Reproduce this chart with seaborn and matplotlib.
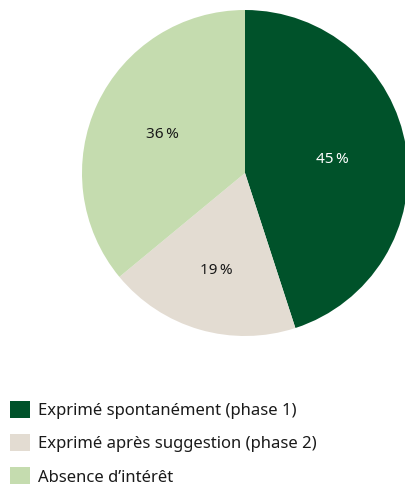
import numpy as np
import matplotlib
matplotlib.use("Agg")
import matplotlib.pyplot as plt
from matplotlib.patches import Patch
import seaborn as sns

# Share of respondents by type of interest expressed
categories = [
    "Exprimé spontanément (phase 1)",
    "Exprimé après suggestion (phase 2)",
    "Absence d\u2019intérêt",
]
shares = [45, 19, 36]
colors = ["#00522A", "#E3DCD2", "#C5DCAF"]
label_colors = ["#FFFFFF", "#1A1A1A", "#1A1A1A"]
label_radius = [0.54, 0.62, 0.56]

sns.set_theme(style="white")
plt.rcParams["font.family"] = ["Noto Sans", "DejaVu Sans"]

W, H = 406, 486
fig = plt.figure(figsize=(W / 100, H / 100), dpi=100)

# Pie area: square box in pixel units (left, top, size)
px_left, px_top, px_size = 82, 10, 326
ax = fig.add_axes([px_left / W, 1 - (px_top + px_size) / H, px_size / W, px_size / H])

wedges, _ = ax.pie(
    shares,
    colors=colors,
    startangle=90,
    counterclock=False,
    radius=1.0,
    wedgeprops=dict(linewidth=0, antialiased=True),
)
ax.set_xlim(-1, 1)
ax.set_ylim(-1, 1)
ax.set_aspect("equal")
ax.axis("off")

for w, val, col, r in zip(wedges, shares, label_colors, label_radius):
    mid = np.deg2rad((w.theta1 + w.theta2) / 2)
    ax.text(r * np.cos(mid), r * np.sin(mid), f"{val}\u202f%",
            ha="center", va="center", fontsize=11, color=col)

fs = 12
px = fs * 100 / 72
handles = [Patch(facecolor=c, edgecolor="none") for c in colors]
fig.legend(
    handles, categories,
    loc="upper left",
    bbox_to_anchor=(10 / W, 1 - 401 / H),
    frameon=False,
    fontsize=fs,
    handlelength=20 / px,
    handleheight=20 / px,
    handletextpad=8 / px,
    labelspacing=15 / px,
    borderpad=0,
    borderaxespad=0,
    labelcolor="#1A1A1A",
)

fig.savefig("out.png", dpi=100, facecolor="white")
